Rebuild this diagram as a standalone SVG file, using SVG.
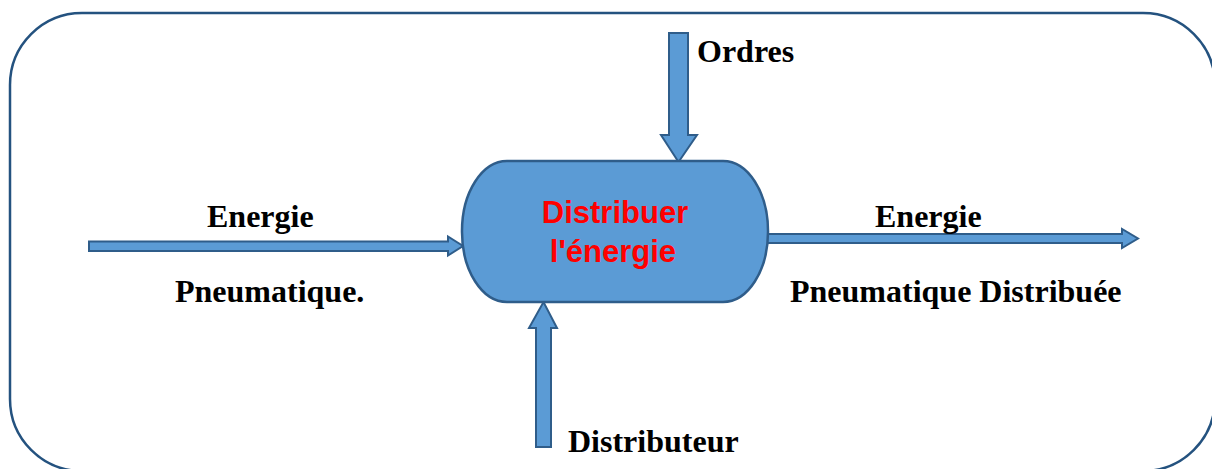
<svg xmlns="http://www.w3.org/2000/svg" width="1212" height="469" viewBox="0 0 1212 469">
<style>
.lbl{font-family:"Liberation Serif","Times New Roman",serif;font-weight:bold;font-size:32px;fill:#000}
.ttl{font-family:"Liberation Sans",Arial,sans-serif;font-weight:bold;font-size:31px;fill:#ff0000}
.arr{fill:#5b9bd5;stroke:#2f5d8a;stroke-width:2;stroke-linejoin:miter}
</style>
<rect x="0" y="0" width="1212" height="469" fill="#ffffff"/>
<rect id="frame" x="10" y="13" width="1205" height="458" rx="72" ry="72" fill="none" stroke="#24527f" stroke-width="2.5"/>
<g id="connectors">
<polygon class="arr" points="669,33 688,33 688,135 697,135 678.5,162 661,135 669,135"/>
<polygon class="arr" points="536,447 551,447 551,328 557,328 543.5,302 529,328 536,328"/>
<polygon class="arr" points="89,241.5 448,241.5 448,236.5 463,246 448,255.5 448,251 89,251"/>
<polygon class="arr" points="763,234 1122,234 1122,229 1138,238.5 1122,248 1122,243 763,243"/>
</g>
<g id="node-distribuer">
<rect x="462" y="161" width="306" height="141" rx="45" ry="70" fill="#5b9bd5" stroke="#2f5d8a" stroke-width="2.5"/>
<text class="ttl" x="615" y="223" text-anchor="middle">Distribuer</text>
<text class="ttl" x="613" y="262" text-anchor="middle">l'énergie</text>
</g>
<g id="labels">
<text class="lbl" x="697" y="62">Ordres</text>
<text class="lbl" x="207" y="227">Energie</text>
<text class="lbl" x="175" y="302">Pneumatique.</text>
<text class="lbl" x="875" y="227">Energie</text>
<text class="lbl" x="790" y="302">Pneumatique Distribuée</text>
<text class="lbl" x="568" y="452">Distributeur</text>
</g>
</svg>
